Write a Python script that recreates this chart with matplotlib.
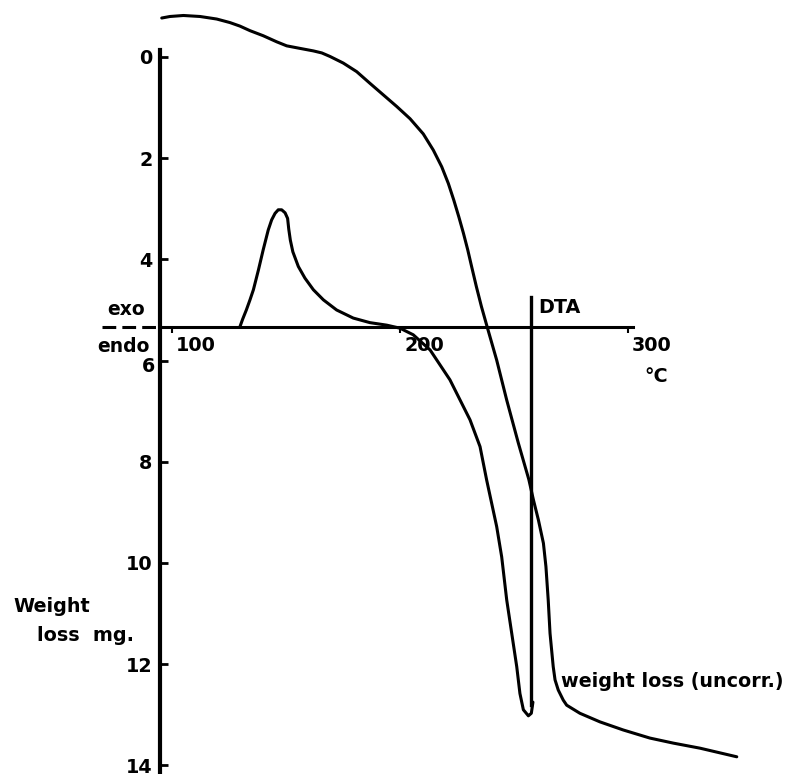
import matplotlib
matplotlib.use('Agg')
from matplotlib import pyplot as plt
from matplotlib import transforms

# weight loss curve (temperature degC, weight loss mg)
tga_temp = [95.5, 99.1, 105.0, 112.3, 119.6, 125.4, 129.8, 134.2, 140.0, 145.9,
            150.3, 156.1, 162.0, 165.7, 169.3, 175.1, 181.0, 186.8, 192.7, 198.6,
            204.4, 210.2, 214.6, 218.3, 221.2, 223.6, 225.8, 227.8, 229.7, 231.4,
            233.5, 235.7, 238.2, 242.4, 246.8, 251.9, 256.5, 258.5, 260.7,
            262.9, 264.0, 265.0, 265.8, 266.5, 267.2, 268.0, 269.4, 271.6, 273.1,
            278.9, 287.7, 297.9, 309.6, 319.9, 331.6, 347.7]
tga_loss = [-0.77, -0.80, -0.82, -0.80, -0.75, -0.68, -0.61, -0.52, -0.42, -0.30,
            -0.22, -0.17, -0.12, -0.08, -0.01, 0.12, 0.29, 0.52, 0.75, 0.98,
            1.22, 1.52, 1.84, 2.17, 2.50, 2.83, 3.16, 3.48, 3.81, 4.14,
            4.54, 4.93, 5.33, 5.99, 6.78, 7.63, 8.35, 8.75, 9.15,
            9.61, 10.07, 10.73, 11.39, 11.72, 12.05, 12.31, 12.51, 12.71, 12.81,
            12.97, 13.14, 13.30, 13.46, 13.56, 13.66, 13.83]

# DTA trace drawn on the same sheet
dta_temp = [129.8, 131.0, 132.6, 134.2, 135.7, 137.9, 140.0, 142.2, 143.7, 145.2,
            146.6, 148.1, 149.6, 150.7, 151.2, 151.9, 153.0, 155.4, 158.3, 162.0,
            166.4, 172.2, 179.5, 186.8, 194.2, 200.0, 205.8, 213.2, 221.9, 230.7,
            235.1, 238.0, 242.4, 244.6, 246.8, 249.0, 251.2, 252.6, 254.1,
            256.3, 257.6, 258.3]
dta_pos = [5.33, 5.18, 5.00, 4.80, 4.60, 4.21, 3.81, 3.42, 3.22, 3.09,
           3.02, 3.02, 3.08, 3.19, 3.40, 3.62, 3.85, 4.14, 4.37, 4.60,
           4.80, 5.00, 5.16, 5.25, 5.30, 5.36, 5.49, 5.79, 6.38, 7.17,
           7.70, 8.36, 9.28, 9.88, 10.73, 11.39, 12.05, 12.58, 12.90,
           13.02, 12.97, 12.75]

dta_baseline = 5.34
dta_peak_temp = 257.6
weight_ticks = [0, 2, 4, 6, 8, 10, 12, 14]
temp_ticks = [100, 200, 300]
temp_labels = ['100', '200', '300']

plt.rcParams['font.family'] = 'DejaVu Sans'
plt.rcParams['font.weight'] = 'bold'

fig = plt.figure(figsize=(7.96, 7.74), dpi=100)
ax = fig.add_axes([0, 0, 1, 1])
ax.set_xlim(24.56, 373.68)
ax.set_ylim(14.17, -1.126)

lw = 2.2
ax.plot(tga_temp, tga_loss, color='black', lw=lw,
        solid_capstyle='round', solid_joinstyle='round')
ax.plot(dta_temp, dta_pos, color='black', lw=lw,
        solid_capstyle='round', solid_joinstyle='round')
ax.plot([dta_peak_temp, dta_peak_temp], [4.74, 12.8], color='black', lw=2.4)
ax.plot([69.3, 94.7], [dta_baseline, dta_baseline], color='black', lw=2.2,
        dashes=(4.5, 2.0))

# axes drawn as spines
for s in ['top', 'right']:
    ax.spines[s].set_visible(False)
ax.spines['left'].set_position(('data', 94.7))
ax.spines['left'].set_bounds(-0.14, 14.2)
ax.spines['left'].set_linewidth(3)
ax.spines['bottom'].set_position(('data', dta_baseline))
ax.spines['bottom'].set_bounds(94.7, 302.2)
ax.spines['bottom'].set_linewidth(2.2)

ax.set_yticks(weight_ticks)
ax.set_yticklabels([str(t) for t in weight_ticks])
ax.tick_params(axis='y', direction='in', length=6, width=2, pad=5.5, labelsize=13.8)
# the 6 sits a little lower, under "endo"
down = transforms.ScaledTranslation(3 / 100, -4 / 100, fig.dpi_scale_trans)
six = ax.get_yticklabels()[3]
six.set_transform(six.get_transform() + down)

ax.set_xticks(temp_ticks)
ax.set_xticklabels(temp_labels)
ax.tick_params(axis='x', direction='out', length=4, width=1.5, pad=2, labelsize=13.8)
offset = transforms.ScaledTranslation(4 / 100, 0, fig.dpi_scale_trans)
for lbl in ax.get_xticklabels():
    lbl.set_ha('left')
    lbl.set_transform(lbl.get_transform() + offset)

ax.text(79.8, 5.10, 'exo', fontsize=13.5, ha='center', va='baseline')
ax.text(78.6, 5.83, 'endo', fontsize=13.5, ha='center', va='baseline')
ax.text(260.5, 5.06, 'DTA', fontsize=13.8, ha='left', va='baseline')
ax.text(312.3, 6.42, '°C', fontsize=13.8, ha='center', va='baseline')
ax.text(30.3, 10.97, 'Weight', fontsize=13.8, ha='left', va='baseline')
ax.text(40.8, 11.54, 'loss  mg.', fontsize=13.8, ha='left', va='baseline')
ax.text(270.6, 12.45, 'weight loss (uncorr.)', fontsize=13.8, ha='left', va='baseline')

plt.savefig('out.png', dpi=100)
